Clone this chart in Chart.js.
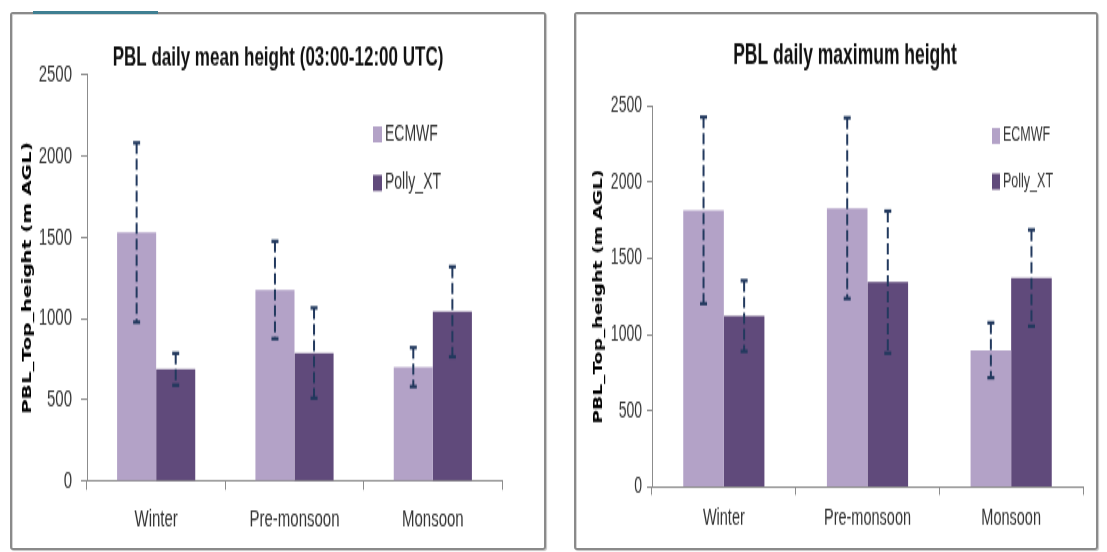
<!DOCTYPE html>
<html>
<head>
<meta charset="utf-8">
<script src="https://cdn.jsdelivr.net/npm/chart.js@4.4.1/dist/chart.umd.min.js"></script>
<style>
  body { margin: 0; background: #fff; width: 1107px; height: 552px; overflow: hidden; position: relative; }
  .frame { position: absolute; border: 2px solid #8a8a8a; border-radius: 3px; box-shadow: inset 1px 1px 0 #d4d4d4, 1px 1px 1px #c4c4c4; }
  #frameL { left: 10px; top: 12px; width: 532px; height: 534px; }
  #frameR { left: 574px; top: 12px; width: 520px; height: 534px; }
  #tab { position: absolute; left: 33px; top: 11px; width: 125px; height: 3px; background: #3f7f92; }
  canvas { position: absolute; top: 0; transform: scaleY(1.6); transform-origin: 0 0; }
  #meanChart { left: 0; }
  #maxChart { left: 560px; }
</style>
</head>
<body>
<div class="frame" id="frameL"></div>
<div class="frame" id="frameR"></div>
<div id="tab"></div>
<canvas id="meanChart" width="556" height="345"></canvas>
<canvas id="maxChart" width="547" height="345"></canvas>
<script>
const categories = ['Winter', 'Pre-monsoon', 'Monsoon'];
const seriesNames = ['ECMWF', 'Polly_XT'];
const yTicks = [0, 500, 1000, 1500, 2000, 2500];

const meanEcmwf = [1530, 1176, 701];
const meanEcmwfErr = [552, 300, 120];
const meanPolly = [688, 788, 1042];
const meanPollyErr = [98, 278, 277];

const maxEcmwf = [1815, 1829, 897];
const maxEcmwfErr = [612, 593, 180];
const maxPolly = [1122, 1344, 1371];
const maxPollyErr = [232, 466, 316];

const ecmwfColor = '#b3a2c7';
const pollyColor = '#604a7b';

const errorBars = {
  id: 'errorBars',
  afterDatasetsDraw(chart, args, opts) {
    const ctx = chart.ctx;
    const y = chart.scales.y;
    chart.data.datasets.forEach((ds, i) => {
      chart.getDatasetMeta(i).data.forEach((bar, j) => {
        const top = y.getPixelForValue(ds.data[j] + ds.errors[j]);
        const bot = y.getPixelForValue(ds.data[j] - ds.errors[j]);
        ctx.save();
        ctx.strokeStyle = opts.color;
        ctx.lineWidth = opts.width;
        ctx.setLineDash(opts.dash);
        ctx.beginPath();
        ctx.moveTo(bar.x, top);
        ctx.lineTo(bar.x, bot);
        ctx.stroke();
        ctx.setLineDash([]);
        ctx.lineWidth = opts.capWidth;
        [top, bot].forEach(p => {
          ctx.beginPath();
          ctx.moveTo(bar.x - opts.cap, p);
          ctx.lineTo(bar.x + opts.cap, p);
          ctx.stroke();
        });
        ctx.restore();
      });
    });
  }
};

const sideLegend = {
  id: 'sideLegend',
  afterDraw(chart, args, opts) {
    const ctx = chart.ctx;
    ctx.save();
    ctx.font = opts.font;
    ctx.textBaseline = 'middle';
    chart.data.datasets.forEach((ds, i) => {
      const cy = opts.rows[i];
      ctx.fillStyle = ds.backgroundColor;
      ctx.fillRect(opts.x, cy - opts.boxH / 2, opts.boxW, opts.boxH);
      ctx.fillStyle = '#333';
      ctx.fillText(ds.label, opts.x + opts.boxW + opts.gap, cy);
    });
    ctx.restore();
  }
};

const headline = {
  id: 'headline',
  afterDraw(chart, args, opts) {
    const ctx = chart.ctx;
    ctx.save();
    ctx.font = opts.font;
    ctx.fillStyle = '#111';
    ctx.textAlign = 'center';
    ctx.textBaseline = 'middle';
    ctx.fillText(opts.text, opts.x, opts.y);
    ctx.restore();
  }
};

function makeChart(id, ecmwf, ecmwfErr, polly, pollyErr, p) {
  const ctx = document.getElementById(id).getContext('2d');
  return new Chart(ctx, {
    type: 'bar',
    data: {
      labels: categories,
      datasets: [
        { label: seriesNames[0], data: ecmwf, errors: ecmwfErr, backgroundColor: ecmwfColor, borderWidth: 0 },
        { label: seriesNames[1], data: polly, errors: pollyErr, backgroundColor: pollyColor, borderWidth: 0 }
      ]
    },
    options: {
      responsive: false,
      animation: false,
      devicePixelRatio: 1,
      categoryPercentage: 0.565,
      barPercentage: 1.0,
      layout: { padding: { left: 0, top: p.top, right: p.right, bottom: 0 } },
      scales: {
        x: {
          afterFit: s => { s.height = p.xHeight; },
          grid: { offset: true, drawOnChartArea: false, drawTicks: true, tickLength: p.xTick, color: '#8c8c8c' },
          border: { color: '#8c8c8c', width: 1 },
          ticks: { padding: p.xPad, color: '#333', font: { family: 'Liberation Sans', size: p.xFont } }
        },
        y: {
          min: 0,
          max: yTicks[yTicks.length - 1],
          afterFit: s => { s.width = p.yWidth; },
          afterBuildTicks: s => { s.ticks = yTicks.map(v => ({ value: v })); },
          grid: { drawOnChartArea: false, drawTicks: true, tickLength: p.yTick, color: '#8c8c8c' },
          border: { color: '#8c8c8c', width: 1 },
          ticks: {
            padding: p.yPad,
            color: '#333',
            font: { family: 'Liberation Sans', size: p.yFont },
            callback: v => String(v)
          },
          title: {
            display: true,
            text: 'PBL_Top_height (m AGL)',
            color: '#000',
            padding: { top: p.titlePad, bottom: 0 },
            font: { family: 'DejaVu Sans', weight: 'bold', size: p.axisFont }
          }
        }
      },
      plugins: {
        legend: { display: false },
        tooltip: { enabled: false },
        title: { display: false },
        headline: { text: p.title, x: p.titleX, y: p.titleY, font: 'bold ' + p.titleFont + 'px "Liberation Sans"' },
        sideLegend: { x: p.legX, rows: p.legRows, boxW: p.boxW, boxH: 10, gap: 3, font: p.legFont + 'px "Liberation Sans"' },
        errorBars: { color: '#22395e', width: 2, dash: [7, 3], cap: 3.5, capWidth: 2.2 }
      }
    },
    plugins: [errorBars, sideLegend, headline]
  });
}

makeChart('meanChart', meanEcmwf, meanEcmwfErr, meanPolly, meanPollyErr, {
  top: 46.875, right: 54, xHeight: 44.375, yWidth: 87,
  xTick: 5.6, xPad: 9.3, xFont: 15, yTick: 6, yPad: 9, yFont: 15,
  titlePad: 20.5, axisFont: 12.5,
  title: 'PBL daily mean height (03:00-12:00 UTC)', titleX: 278, titleY: 36.25, titleFont: 17,
  legX: 373, legRows: [84, 114.4], boxW: 9, legFont: 14
});

makeChart('maxChart', maxEcmwf, maxEcmwfErr, maxPolly, maxPollyErr, {
  top: 66.25, right: 24, xHeight: 40.625, yWidth: 92,
  xTick: 5, xPad: 6, xFont: 14.5, yTick: 5, yPad: 5, yFont: 14,
  titlePad: 32, axisFont: 11.7,
  title: 'PBL daily maximum height', titleX: 285, titleY: 35, titleFont: 17.5,
  legX: 432, legRows: [85, 113.5], boxW: 8, legFont: 12.5
});
</script>
</body>
</html>
